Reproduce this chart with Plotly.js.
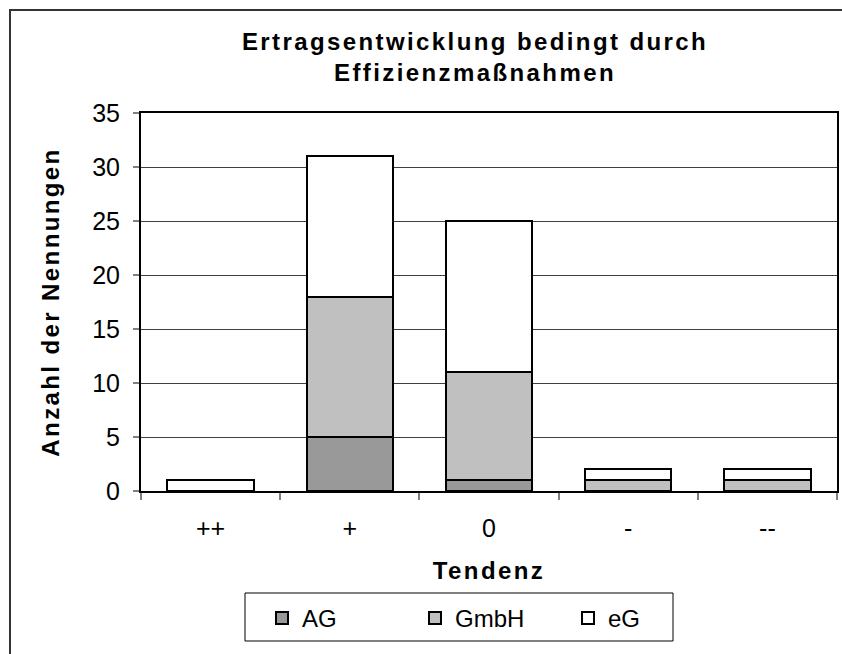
<!DOCTYPE html>
<html>
<head>
<meta charset="utf-8">
<script src="https://cdn.plot.ly/plotly-3.0.1.min.js"></script>
<style>
html,body{margin:0;padding:0;background:#fff;}
#chart{width:842px;height:654px;}
#chart .gtitle, #chart .xtitle, #chart .ytitle { letter-spacing: 2.4px; }
</style>
</head>
<body>
<div id="chart"></div>
<script>
var categories = ["++", "+", "0", "-", "--"];
var seriesNames = ["AG", "GmbH", "eG"];
var valuesAG = [null, 5, 1, null, null];
var valuesGmbH = [null, 13, 10, 1, 1];
var valuesEG = [1, 13, 14, 1, 1];
var seriesColors = ["#999999", "#c0c0c0", "#ffffff"];
var yTicks = [0, 5, 10, 15, 20, 25, 30, 35];

var seriesValues = [valuesAG, valuesGmbH, valuesEG];
var FONT = "Liberation Sans, Arial, sans-serif";

var traces = seriesNames.map(function (name, i) {
  return {
    type: "bar",
    name: name,
    x: categories,
    y: seriesValues[i],
    marker: { color: seriesColors[i], line: { color: "#000000", width: 2 } },
    hoverinfo: "skip"
  };
});

// plot area in pixels: x 141..837, y 113..491
function px(x) { return (x - 141) / 696; }
function py(y) { return (491 - y) / 378; }

var layout = {
  width: 842,
  height: 654,
  margin: { l: 141, r: 5, t: 113, b: 163 },
  paper_bgcolor: "#ffffff",
  plot_bgcolor: "#ffffff",
  font: { family: FONT, size: 25, color: "#000000" },
  barmode: "stack",
  bargap: 0.38,
  showlegend: true,
  title: {
    text: "<b>Ertragsentwicklung bedingt durch<br>Effizienzmaßnahmen</b>",
    font: { family: FONT, size: 24, color: "#000000" },
    x: 475 / 842, xref: "container", xanchor: "center",
    y: 1 - 50 / 654, yref: "container", yanchor: "top"
  },
  xaxis: {
    type: "category",
    categoryorder: "array",
    categoryarray: categories,
    tickson: "boundaries",
    ticks: "outside",
    ticklen: 7,
    tickwidth: 2,
    tickcolor: "#808080",
    ticklabelstandoff: 14,
    showline: true,
    linecolor: "#000000",
    linewidth: 2,
    mirror: true,
    showgrid: false,
    tickfont: { family: FONT, size: 25 },
    title: { text: "<b>Tendenz</b>", font: { family: FONT, size: 24 }, standoff: 21 },
    fixedrange: true
  },
  yaxis: {
    range: [0, 35],
    tickvals: yTicks,
    ticktext: yTicks.map(String),
    ticks: "outside",
    ticklen: 6,
    tickwidth: 2,
    tickcolor: "#808080",
    ticklabelstandoff: 8,
    showline: true,
    linecolor: "#000000",
    linewidth: 2,
    mirror: true,
    showgrid: true,
    gridcolor: "#404040",
    gridwidth: 1,
    zeroline: false,
    tickfont: { family: FONT, size: 25 },
    title: { text: "<b>Anzahl der Nennungen</b>", font: { family: FONT, size: 24 }, standoff: 26 },
    fixedrange: true
  },
  legend: {
    orientation: "h",
    x: px(262), xanchor: "left",
    y: py(596), yanchor: "top",
    borderwidth: 0,
    bgcolor: "rgba(0,0,0,0)",
    font: { family: FONT, size: 24 },
    entrywidth: 108,
    traceorder: "normal"
  },
  shapes: [
    {
      type: "rect", xref: "paper", yref: "paper",
      x0: px(10), x1: 1.3,
      y0: -1.0, y1: py(10),
      line: { color: "#333333", width: 2 },
      fillcolor: "rgba(0,0,0,0)",
      layer: "below"
    },
    {
      type: "rect", xref: "paper", yref: "paper",
      x0: px(245), x1: px(673),
      y0: py(641), y1: py(593),
      line: { color: "#000000", width: 1 },
      fillcolor: "rgba(0,0,0,0)",
      layer: "below"
    }
  ]
};

Plotly.newPlot("chart", traces, layout, { displayModeBar: false, staticPlot: true });
</script>
</body>
</html>
